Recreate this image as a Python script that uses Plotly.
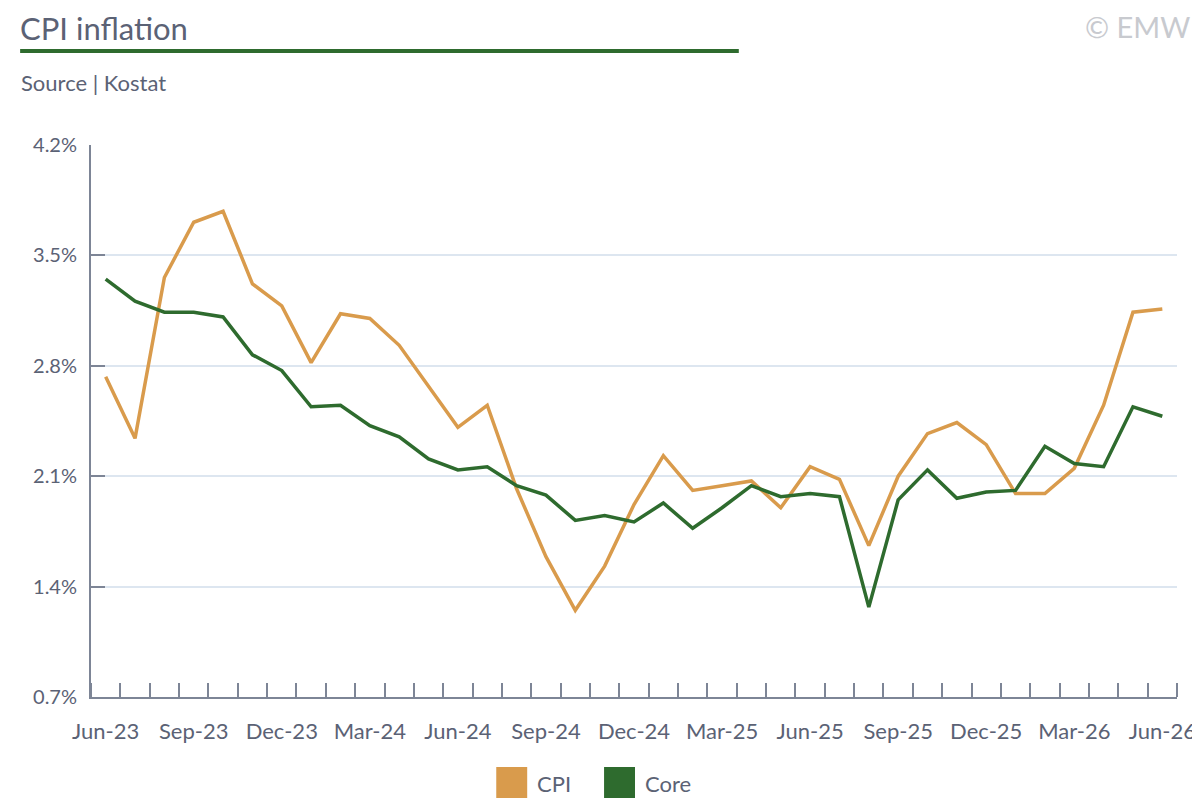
import plotly.graph_objects as go

months = ["Jun-23", "Jul-23", "Aug-23", "Sep-23", "Oct-23", "Nov-23", "Dec-23",
          "Jan-24", "Feb-24", "Mar-24", "Apr-24", "May-24", "Jun-24", "Jul-24",
          "Aug-24", "Sep-24", "Oct-24", "Nov-24", "Dec-24", "Jan-25", "Feb-25",
          "Mar-25", "Apr-25", "May-25", "Jun-25", "Jul-25", "Aug-25", "Sep-25",
          "Oct-25", "Nov-25", "Dec-25", "Jan-26", "Feb-26", "Mar-26", "Apr-26",
          "May-26", "Jun-26"]

cpi = [2.73, 2.34, 3.36, 3.71, 3.78, 3.32, 3.18, 2.82, 3.13, 3.10, 2.93, 2.67,
       2.41, 2.55, 2.02, 1.59, 1.25, 1.53, 1.92, 2.23, 2.01, 2.04, 2.07, 1.90,
       2.16, 2.08, 1.66, 2.10, 2.37, 2.44, 2.30, 1.99, 1.99, 2.15, 2.55, 3.14, 3.16]

core = [3.35, 3.21, 3.14, 3.14, 3.11, 2.87, 2.77, 2.54, 2.55, 2.42, 2.35, 2.21,
        2.14, 2.16, 2.04, 1.98, 1.82, 1.85, 1.81, 1.93, 1.77, 1.90, 2.04, 1.97,
        1.99, 1.97, 1.27, 1.95, 2.14, 1.96, 2.00, 2.01, 2.29, 2.18, 2.16, 2.54, 2.48]

y_ticks = [0.7, 1.4, 2.1, 2.8, 3.5, 4.2]
series_names = ["CPI", "Core"]
series_colors = ["#d99b4c", "#2e6b2e"]

W, H = 1200, 800
OFF = 8  # page offset of the figure in the browser window
L, R, T, B = 83, 29, 137, 111
PW, PH = W - L - R, H - T - B

def px(x):
    return (x - OFF - L) / PW

def py(y):
    return (H - B - (y - OFF)) / PH

FONT = "Lato"
TXT = "#5b6275"
AXC = "#7d8596"

idx = list(range(len(months)))

fig = go.Figure()
for name, vals, col in zip(series_names, [cpi, core], series_colors):
    fig.add_trace(go.Scatter(x=idx, y=vals, mode="lines", name=name,
                             line=dict(color=col, width=3.5), showlegend=False))

fig.update_layout(
    width=W, height=H,
    margin=dict(l=L, r=R, t=T, b=B),
    paper_bgcolor="white", plot_bgcolor="white",
    font=dict(family=FONT, color=TXT),
    xaxis=dict(
        range=[-0.5, len(months) - 0.5],
        tickvals=idx[::3], ticktext=months[::3],
        ticks="", showgrid=False, zeroline=False,
        showline=True, linecolor=AXC, linewidth=2,
        tickfont=dict(size=22, color=TXT, family=FONT),
        ticklabelstandoff=14,
        minor=dict(ticks="inside", tick0=-0.5, dtick=1, ticklen=14,
                   tickwidth=2, tickcolor=AXC, showgrid=False),
    ),
    yaxis=dict(
        range=[0.7, 4.2], tickvals=y_ticks,
        ticktext=[f"{v:.1f}%" for v in y_ticks],
        ticks="inside", ticklen=14, tickwidth=2, tickcolor=AXC,
        showgrid=True, gridcolor="#dde6f0", gridwidth=2,
        zeroline=False, showline=True, linecolor=AXC, linewidth=2,
        tickfont=dict(size=20, color=TXT, family=FONT),
        ticklabelstandoff=8,
    ),
)

shapes = [
    dict(type="line", xref="paper", yref="paper", x0=px(20), x1=px(740),
         y0=py(51), y1=py(51), line=dict(color="#2e6b2e", width=4)),
]
annotations = [
    dict(text="CPI inflation", xref="paper", yref="paper", x=px(18), y=py(28),
         xanchor="left", yanchor="middle", showarrow=False,
         font=dict(size=31, color=TXT, family=FONT)),
    dict(text="Source | Kostat", xref="paper", yref="paper", x=px(19), y=py(82),
         xanchor="left", yanchor="middle", showarrow=False,
         font=dict(size=22, color=TXT, family=FONT)),
    dict(text="© EMW", xref="paper", yref="paper", x=px(1194), y=py(27),
         xanchor="right", yanchor="middle", showarrow=False,
         font=dict(size=29, color="#c8cacf", family=FONT)),
]

legend_x = [497, 605]
for name, col, lx in zip(series_names, series_colors, legend_x):
    shapes.append(dict(type="rect", xref="paper", yref="paper",
                       x0=px(lx), x1=px(lx + 31), y0=py(767), y1=py(798),
                       fillcolor=col, line=dict(width=0)))
    annotations.append(dict(text=name, xref="paper", yref="paper",
                            x=px(lx + 39), y=py(783), xanchor="left",
                            yanchor="middle", showarrow=False,
                            font=dict(size=22, color=TXT, family=FONT)))

fig.update_layout(shapes=shapes, annotations=annotations)
fig.write_html("out.html")
